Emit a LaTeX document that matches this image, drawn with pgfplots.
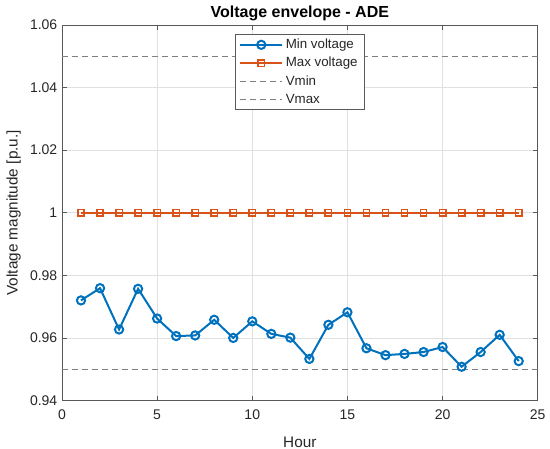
\documentclass[border=0pt]{standalone}
\usepackage{fontspec}
\setmainfont{Liberation Sans}
\usepackage{pgfplots}
\pgfplotsset{compat=1.18}
\definecolor{mblue}{rgb}{0,0.447,0.741}
\definecolor{morange}{rgb}{0.85,0.325,0.098}
\definecolor{mgray}{rgb}{0.5,0.5,0.5}
\begin{document}
\begin{tikzpicture}
\begin{axis}[
  scale only axis, width=357pt, height=281.8pt,
  xmin=0, xmax=25, ymin=0.94, ymax=1.06,
  xtick={0,5,10,15,20,25},
  ytick={0.94,0.96,0.98,1,1.02,1.04,1.06},
  yticklabels={0.94,0.96,0.98,1,1.02,1.04,1.06},
  /pgf/number format/assume math mode=true,
  grid=major, major grid style={black!12, line width=0.5pt},
  tick align=inside, xtick pos=both, ytick pos=both,
  major tick length=3.5pt,
  axis line style={black!65, line width=0.5pt},
  tick style={black!65, line width=0.5pt},
  ticklabel style={font=\fontsize{10.5}{12}\selectfont, text=black!85},
  xticklabel style={yshift=-3.5pt},
  title={\bfseries Voltage envelope - ADE},
  title style={font=\fontsize{12}{14}\selectfont, text=black, yshift=-6.5pt},
  xlabel={Hour}, ylabel={Voltage magnitude [p.u.]},
  label style={font=\fontsize{11.5}{13}\selectfont, text=black!85},
  xlabel style={yshift=-6pt},
  legend style={at={(0.5,0.976)}, anchor=north, draw=black!65, line width=0.5pt,
    font=\fontsize{10}{12}\selectfont, text=black!85, row sep=1pt,
    inner xsep=3pt, inner ysep=1.5pt},
  legend cell align=left,
  legend image code/.code={\draw[mark repeat=2,mark phase=2] plot coordinates {(0cm,0cm)(0.55cm,0cm)(1.1cm,0cm)};},
]
\addplot[mblue, line width=1.5pt, mark=o, mark size=3.1pt, mark options={line width=1.5pt}] coordinates {
(1,0.9720)(2,0.9759)(3,0.9627)(4,0.9757)(5,0.9662)(6,0.9606)(7,0.9608)(8,0.9658)
(9,0.9600)(10,0.9653)(11,0.9613)(12,0.9601)(13,0.9533)(14,0.9642)(15,0.9682)(16,0.9567)
(17,0.9545)(18,0.9549)(19,0.9555)(20,0.9571)(21,0.9508)(22,0.9555)(23,0.9610)(24,0.9526)};
\addlegendentry{Min voltage}
\addplot[morange, line width=1.5pt, mark=square, mark size=2.4pt, mark options={line width=1.1pt}] coordinates {
(1,1)(2,1)(3,1)(4,1)(5,1)(6,1)(7,1)(8,1)(9,1)(10,1)(11,1)(12,1)
(13,1)(14,1)(15,1)(16,1)(17,1)(18,1)(19,1)(20,1)(21,1)(22,1)(23,1)(24,1)};
\addlegendentry{Max voltage}
\addplot[mgray, line width=0.6pt, dash pattern=on 4.5pt off 3pt] coordinates {(0,0.95)(25,0.95)};
\addlegendentry{Vmin}
\addplot[mgray, line width=0.6pt, dash pattern=on 4.5pt off 3pt] coordinates {(0,1.05)(25,1.05)};
\addlegendentry{Vmax}
\end{axis}
\pgfresetboundingbox
\path (current axis.south west) ++(-46.5pt,-36.2pt) coordinate (bl);
\path (current axis.north east) ++(9.2pt,18.75pt) coordinate (tr);
\path[use as bounding box] (bl) rectangle (tr);
\end{tikzpicture}
\end{document}
